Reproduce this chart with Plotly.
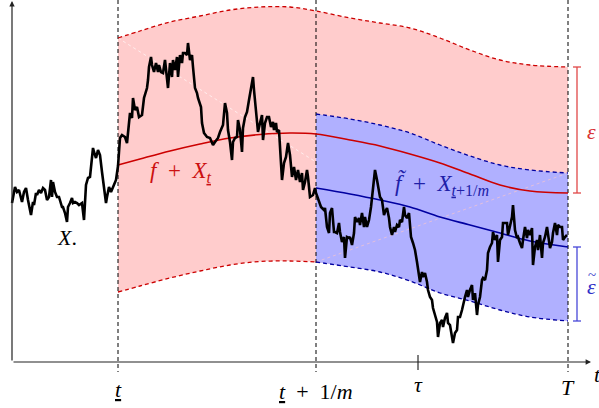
import plotly.graph_objects as go

# ---------------- data (horizontal = time, vertical = level, screen-like units) -------------
# key times on the time axis
key_times = {"t": 118, "t1m": 316, "tau": 418, "T": 568}
axis_origin = (12, 362)

# sampled path X.
path_x = [12, 15, 17, 19, 22, 24, 26, 27, 28, 31, 33, 34, 36, 37, 39, 41, 43, 45, 47, 49, 51, 52, 53, 55, 57, 59,
          62, 63, 65, 67, 68, 70, 72, 73, 75, 77, 79, 82, 84, 86, 88, 90, 93, 94, 96, 98, 100, 102, 104, 106, 107,
          109, 111, 113, 116, 118,
          119, 120, 122, 125, 127, 128, 130, 132, 133, 135, 137, 139, 142, 144, 147, 148, 149, 151, 152, 154, 156,
          158, 159, 161, 163, 165, 167, 168, 170, 172, 173, 175, 177, 178, 180, 182, 183, 185, 187, 188, 190, 192,
          193, 195, 197, 198, 201, 202, 204, 207, 210, 213, 215, 218, 220, 223, 225,
          227, 228, 230, 232, 233, 235, 237, 238, 240, 242, 243, 245, 247, 249, 251, 253, 254, 256, 258, 260, 262,
          263, 265, 267, 269, 271, 273, 274, 276, 277, 279, 282, 284, 286, 288, 290, 292, 294, 296, 298, 300, 302,
          303, 305, 307, 308, 310, 313, 315,
          316, 319, 321, 324, 325, 327, 329, 330, 332, 334, 335, 337, 339, 340, 342, 344, 345, 347, 349, 350, 352,
          354, 355, 357, 359, 360, 362, 364, 365, 367, 369, 371, 374, 375, 377, 379, 380, 382, 384, 385, 387, 389,
          390, 392, 394, 395, 397, 399, 400, 402, 404, 405, 407, 409, 411, 413, 415, 417, 418,
          420, 422, 423, 425, 427, 428, 430, 432, 433, 435, 437, 438, 440, 442, 443, 445, 447, 448, 450, 452, 453,
          455, 457, 458, 460, 462, 463, 465, 467, 468, 470, 472, 473, 475, 477, 478, 480, 482, 483, 485, 487, 488,
          490, 492, 493, 495, 497, 498, 500, 502, 503, 505, 507, 508, 510, 512, 513, 515, 517, 518, 520, 522, 523,
          525, 527, 528, 530, 532, 533, 535, 537, 538, 540, 542, 543, 545, 547, 548, 550, 552, 553, 555, 557, 558,
          560, 562, 563, 565, 567]
path_y = [203, 187, 192, 190, 202, 192, 188, 197, 200, 215, 202, 205, 193, 195, 190, 193, 188, 190, 200, 197, 180,
          197, 182, 192, 197, 197, 207, 207, 213, 222, 207, 203, 198, 203, 202, 203, 205, 203, 220, 185, 178, 177,
          148, 152, 158, 150, 155, 172, 188, 203, 197, 187, 192, 187, 180, 166,
          150, 138, 135, 137, 143, 130, 113, 118, 98, 110, 107, 117, 115, 98, 88, 80, 67, 57, 65, 72, 63, 72, 65,
          72, 73, 60, 78, 88, 63, 77, 60, 70, 57, 77, 55, 63, 53, 53, 55, 43, 60, 55, 67, 88, 93, 98, 107, 123,
          133, 137, 138, 145, 142, 138, 132, 125, 103,
          113, 130, 142, 160, 142, 138, 137, 120, 130, 152, 128, 117, 112, 100, 90, 77, 90, 110, 132, 123, 115,
          140, 123, 117, 117, 127, 122, 130, 123, 132, 130, 180, 163, 157, 143, 155, 177, 167, 180, 170, 182, 173,
          190, 182, 170, 177, 197, 195, 188,
          193, 202, 207, 210, 208, 227, 233, 213, 208, 232, 232, 233, 223, 232, 242, 237, 258, 237, 238, 237, 245,
          233, 217, 222, 218, 225, 213, 227, 217, 227, 220, 207, 180, 170, 180, 192, 197, 200, 215, 212, 208, 218,
          227, 235, 227, 232, 225, 227, 220, 222, 207, 215, 218, 213, 237, 243, 250, 262, 270,
          282, 272, 277, 273, 282, 290, 297, 300, 308, 315, 322, 337, 323, 320, 327, 318, 313, 323, 325, 337, 343,
          333, 330, 317, 317, 310, 305, 297, 290, 297, 290, 285, 300, 293, 315, 305, 297, 280, 278, 280, 270, 253,
          247, 243, 232, 240, 235, 262, 240, 237, 223, 223, 223, 235, 227, 217, 205, 230, 238, 237, 243, 248, 240,
          227, 238, 230, 235, 228, 265, 247, 240, 250, 235, 258, 243, 237, 227, 233, 248, 242, 233, 223, 235, 225,
          227, 227, 240, 237, 235]

# red band f + X_t  (centre and +/- epsilon)
red_x = [118, 140, 170, 200, 230, 260, 290, 316, 350, 380, 410, 440, 470, 500, 530, 568]
red_upper = [38, 31, 22, 16, 10, 7, 7, 11, 18, 23, 28, 38, 50, 60, 65, 67]
red_mid = [165, 159, 151, 144, 138, 134.5, 133, 134, 140, 146, 154, 163, 174, 185, 191, 193]
red_lower = [292, 286, 278, 271, 265, 261.5, 261, 262, 267, 272, 281, 293, 301, 310, 317, 321]

# blue band f~ + X_{t+1/m}  (centre and +/- epsilon~)
blue_x = [316, 350, 380, 410, 440, 470, 500, 530, 568]
blue_upper = [114, 119, 125, 133, 145, 156, 165, 170, 173]
blue_mid = [188, 194, 200, 207, 217, 225, 233, 241, 247]
blue_lower = [262, 267, 272, 281, 293, 301, 310, 317, 321]

# ---------------- figure ----------------
RED = "#cc0000"
BLUE = "#0000a0"
PINK = "#ffcccc"
LBLUE = "#b0b0ff"
MATH = "Liberation Serif"
SP = "\u2002"  # math-like spacing around "+"

fig = go.Figure()

# red band fill
fig.add_trace(go.Scatter(x=red_x, y=red_lower, mode="lines", line=dict(width=0, shape="spline"),
                         hoverinfo="skip", showlegend=False))
fig.add_trace(go.Scatter(x=red_x, y=red_upper, mode="lines", line=dict(width=0, shape="spline"),
                         fill="tonexty", fillcolor=PINK, hoverinfo="skip", showlegend=False))
# blue band fill
fig.add_trace(go.Scatter(x=blue_x, y=blue_lower, mode="lines", line=dict(width=0, shape="spline"),
                         hoverinfo="skip", showlegend=False))
fig.add_trace(go.Scatter(x=blue_x, y=blue_upper, mode="lines", line=dict(width=0, shape="spline"),
                         fill="tonexty", fillcolor=LBLUE, hoverinfo="skip", showlegend=False))

# faint seams of the fills
fig.add_trace(go.Scatter(x=[red_x[0], key_times["t1m"]], y=[red_upper[0], 162], mode="lines",
                         line=dict(color="white", width=0.7, dash="dot"), opacity=0.9,
                         hoverinfo="skip", showlegend=False))
fig.add_trace(go.Scatter(x=[blue_x[0], blue_x[-1]], y=[blue_lower[0], blue_upper[-1]], mode="lines",
                         line=dict(color="#ffc8c8", width=0.7, dash="dot"), opacity=0.9,
                         hoverinfo="skip", showlegend=False))

# vertical dashed time markers
for key in ("t", "t1m", "T"):
    xv = key_times[key]
    fig.add_trace(go.Scatter(x=[xv, xv], y=[0, axis_origin[1] + 10], mode="lines",
                             line=dict(color="black", width=1, dash="4px,3px"),
                             hoverinfo="skip", showlegend=False))

# band boundaries and centres
n_red_vis = red_x.index(key_times["t1m"]) + 1
fig.add_trace(go.Scatter(x=red_x, y=red_upper, mode="lines",
                         line=dict(color=RED, width=1.3, dash="4px,3px", shape="spline"),
                         hoverinfo="skip", showlegend=False))
fig.add_trace(go.Scatter(x=red_x[:n_red_vis], y=red_lower[:n_red_vis], mode="lines",
                         line=dict(color=RED, width=1.3, dash="4px,3px", shape="spline"),
                         hoverinfo="skip", showlegend=False))
fig.add_trace(go.Scatter(x=blue_x, y=blue_upper, mode="lines",
                         line=dict(color=BLUE, width=1.3, dash="4px,3px", shape="spline"),
                         hoverinfo="skip", showlegend=False))
fig.add_trace(go.Scatter(x=blue_x, y=blue_lower, mode="lines",
                         line=dict(color=BLUE, width=1.3, dash="4px,3px", shape="spline"),
                         hoverinfo="skip", showlegend=False))
fig.add_trace(go.Scatter(x=red_x, y=red_mid, mode="lines",
                         line=dict(color=RED, width=1.6, shape="spline"),
                         hoverinfo="skip", showlegend=False))
fig.add_trace(go.Scatter(x=blue_x, y=blue_mid, mode="lines",
                         line=dict(color=BLUE, width=1.6, shape="spline"),
                         hoverinfo="skip", showlegend=False))

# path
fig.add_trace(go.Scatter(x=path_x, y=path_y, mode="lines",
                         line=dict(color="black", width=2.6),
                         hoverinfo="skip", showlegend=False))

# tau tick
fig.add_trace(go.Scatter(x=[key_times["tau"], key_times["tau"]], y=[axis_origin[1] - 7, axis_origin[1] + 8],
                         mode="lines", line=dict(color="black", width=1), hoverinfo="skip", showlegend=False))

# epsilon brackets
bx = key_times["T"] + 9
for (y0, y1, col) in ((red_upper[-1], red_mid[-1], "#e04848"), (blue_mid[-1], blue_lower[-1], "#4848d8")):
    fig.add_trace(go.Scatter(x=[bx, bx, None, bx - 4, bx + 4, None, bx - 4, bx + 4],
                             y=[y0, y1, None, y0, y0, None, y1, y1], mode="lines",
                             line=dict(color=col, width=1.3), hoverinfo="skip", showlegend=False))

# axes with arrows
ox, oy = axis_origin
ann = []
ann.append(dict(x=591, y=oy, ax=ox, ay=oy, xref="x", yref="y", axref="x", ayref="y", showarrow=True,
                arrowhead=2, arrowsize=0.9, arrowwidth=1.2, arrowcolor="#222", text="", standoff=0))
ann.append(dict(x=ox, y=1, ax=ox, ay=oy, xref="x", yref="y", axref="x", ayref="y", showarrow=True,
                arrowhead=2, arrowsize=0.9, arrowwidth=1.2, arrowcolor="#222", text="", standoff=0))


def label(x, y, text, color="black", size=22, xanchor="center"):
    ann.append(dict(x=x, y=y, xref="x", yref="y", text=text, showarrow=False, xanchor=xanchor,
                    yanchor="middle", font=dict(family=MATH, size=size, color=color)))


label(key_times["t"], 389, "<u><i>t</i></u>")
label(key_times["t1m"], 391, "<u><i>t</i></u>" + SP + "+" + SP + "1/<i>m</i>")
label(key_times["tau"], 384, "<i>τ</i>")
label(key_times["T"], 387, "<i>T</i>")
label(592, 374, "<i>t</i>", xanchor="left")
label(67, 237, "<i>X</i>.", size=22)
label(180, 172, "<i>f</i>" + SP + "+" + SP + "<i>X</i><sub><u><i>t</i></u></sub>", color="#cc1010", size=23)
label(442, 184, "<i>f\u0303</i>" + SP + "+" + SP + "<i>X</i><sub><u><i>t</i></u>+1/<i>m</i></sub>",
      color="#2020a8", size=23)
label(591, 131, "<i>ε</i>", color="#d83030", size=22)
label(591, 286, "<i>ε</i>", color="#3030c8", size=22)
label(592, 275, "~", color="#3030c8", size=15)

fig.update_layout(
    width=599, height=408,
    margin=dict(l=0, r=0, t=0, b=0),
    paper_bgcolor="white", plot_bgcolor="white",
    xaxis=dict(range=[0, 599], visible=False, fixedrange=True),
    yaxis=dict(range=[408, 0], visible=False, fixedrange=True),
    annotations=ann,
    showlegend=False,
)

fig.write_html("out.html", config={"displayModeBar": False, "staticPlot": True},
               post_script="document.body.style.margin='0';")
